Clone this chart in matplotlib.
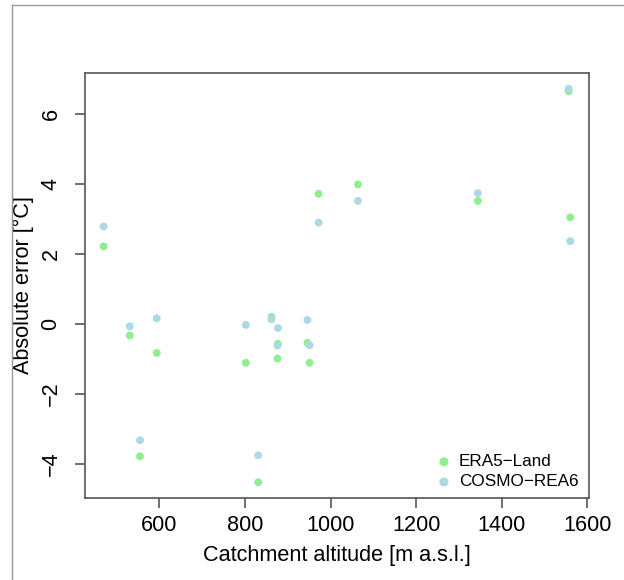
import matplotlib
matplotlib.use("Agg")
import matplotlib.pyplot as plt
from matplotlib.lines import Line2D

plt.rcParams['font.family'] = ['Liberation Sans', 'DejaVu Sans']

altitude = [470, 531, 555, 594, 802, 831, 862, 877, 876, 946, 951, 972, 1064, 1344, 1556, 1560]
era5_land = [2.21, -0.33, -3.78, -0.83, -1.11, -4.52, 0.20, -0.57, -0.99, -0.54, -1.11, 3.71, 3.98, 3.51, 6.64, 3.04]
cosmo_rea6 = [2.78, -0.07, -3.32, 0.16, -0.03, -3.75, 0.13, -0.12, -0.62, 0.11, -0.61, 2.89, 3.51, 3.73, 6.71, 2.36]
x_ticks = [600, 800, 1000, 1200, 1400, 1600]
y_ticks = [-4, -2, 0, 2, 4, 6]
series_labels = ["ERA5\u2212Land", "COSMO\u2212REA6"]
colors = ["#90EE90", "#ADD8E6"]

W, H = 624, 580
fig = plt.figure(figsize=(W / 100, H / 100), dpi=100)
ax = fig.add_axes([85 / W, (H - 498) / H, (589 - 85) / W, (498 - 73) / H])

ax.scatter(altitude, era5_land, s=32, color=colors[0], edgecolors='none', label=series_labels[0], zorder=3)
ax.scatter(altitude, cosmo_rea6, s=32, color=colors[1], edgecolors='none', label=series_labels[1], zorder=4)

def rlim(vals):
    lo, hi = min(vals), max(vals)
    d = (hi - lo) * 0.04
    return lo - d, hi + d

ax.set_xlim(*rlim(altitude))
ax.set_ylim(*rlim(era5_land + cosmo_rea6))
ax.set_xticks(x_ticks)
ax.set_yticks(y_ticks)
ax.set_yticklabels([str(v).replace('-', '\u2212') for v in y_ticks], rotation=90, va='center')

fs = 15.6
spine_col = '#555555'
for s in ax.spines.values():
    s.set_color(spine_col)
    s.set_linewidth(1.2)
ax.tick_params(axis='both', direction='out', length=7, width=1.2, color=spine_col, labelsize=fs)
ax.tick_params(axis='x', pad=5)
ax.tick_params(axis='y', pad=10)

ax.set_xlabel("Catchment altitude [m a.s.l.]", fontsize=fs)
ax.set_ylabel("Absolute error [°C]", fontsize=fs)
ax.xaxis.set_label_coords(0.5, -(555 - 498) / (498 - 73), transform=ax.transAxes)
ax.yaxis.set_label_coords(-(85 - 23) / (589 - 85), 0.5, transform=ax.transAxes)
ax.xaxis.label.set_va('center')
ax.yaxis.label.set_va('center')

leg = ax.legend(loc='lower right', bbox_to_anchor=(1.003, -0.008), frameon=False, fontsize=12.3,
                handlelength=1.0, handletextpad=0.38, labelspacing=0.3, markerscale=1.15,
                borderaxespad=0.3)

fig.add_artist(Line2D([12 / W, 1], [1 - 5 / H, 1 - 5 / H], transform=fig.transFigure, color='#999999', lw=1))
fig.add_artist(Line2D([12 / W, 12 / W], [0, 1 - 5 / H], transform=fig.transFigure, color='#999999', lw=1))

fig.savefig("out.png", dpi=100)
